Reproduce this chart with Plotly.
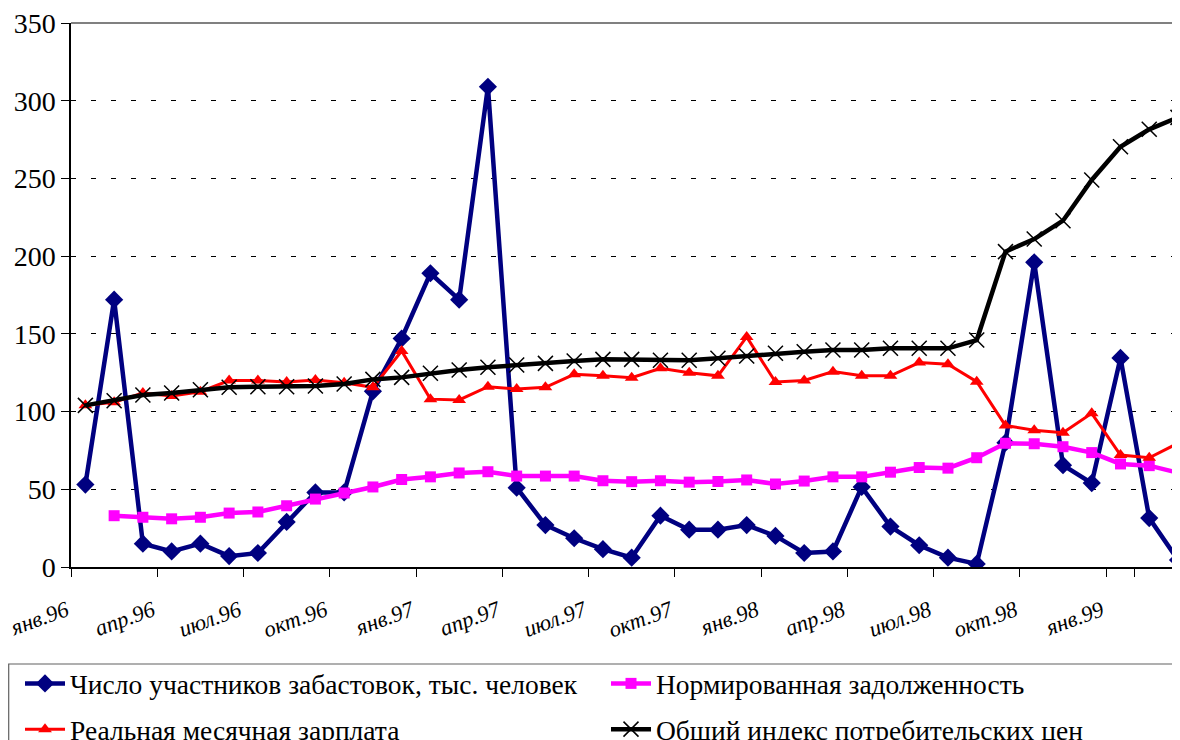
import plotly.graph_objects as go

months = ["янв.96","фев.96","мар.96","апр.96","май.96","июн.96","июл.96","авг.96","сен.96","окт.96","ноя.96","дек.96",
          "янв.97","фев.97","мар.97","апр.97","май.97","июн.97","июл.97","авг.97","сен.97","окт.97","ноя.97","дек.97",
          "янв.98","фев.98","мар.98","апр.98","май.98","июн.98","июл.98","авг.98","сен.98","окт.98","ноя.98","дек.98",
          "янв.99","фев.99","мар.99"]

strikers = [53, 172, 15, 10, 15, 7, 9, 29, 48, 48, 113, 147,
            189, 172, 309, 51, 27, 18.5, 11.5, 6, 33, 24, 24, 27,
            20, 9, 10, 51.5, 26, 14, 6, 2, 80, 196, 65.5, 54,
            134.5, 31.5, 4.5]

debt = [None, 33, 32, 31, 32, 34.7, 35.4, 39.4, 43.7, 47.6, 51.5, 56.3,
        58, 60.5, 61.3, 58.5, 58.5, 58.5, 55.5, 54.9, 55.5, 54.6, 55, 56,
        53.4, 55.3, 58, 58, 61, 64, 63.6, 70.3, 79.6, 79.3, 77.4, 73.6,
        66.3, 65.2, 60.7]

wage = [104, 106, 112, 110, 112.8, 120, 120, 119, 120.3, 118.6, 115.6, 139,
        108, 107.5, 116, 114.5, 115.6, 124, 123, 121.8, 127.8, 125, 123, 148,
        119, 120, 125.7, 123, 123, 131.5, 130.4, 119.2, 91, 88, 86.4, 98.9,
        72, 70.3, 79.6]

cpi = [104, 107, 110.7, 112, 114, 115.6, 116, 116, 116.5, 117.7, 120.7, 122,
       124.6, 126.7, 128.5, 130, 131, 132.5, 133.6, 133.6, 133, 133, 134.3, 135.8,
       137.5, 138.5, 139.6, 139.6, 140.7, 140.7, 140.7, 146, 202.9, 211, 222.8, 249,
       270.4, 281.6, 289.3]

tick_labels = months[::3]

names = ["Число участников забастовок, тыс. человек",
         "Нормированная задолженность",
         "Реальная месячная зарплата",
         "Общий индекс потребительских цен"]

SERIF = "Liberation Serif"

# the page body adds an 8px offset; figure coordinates below account for it
W, H = 1180, 740
ML, MR, MT, MB = 63, 8, 15, 181
PW, PH = W - ML - MR, H - MT - MB

fig = go.Figure()
fig.add_trace(go.Scatter(x=months, y=strikers, name=names[0], mode="lines+markers",
                         legend="legend", legendgroup="g1",
                         line=dict(color="#000080", width=4.5),
                         marker=dict(symbol="diamond", size=14, color="#000080")))
fig.add_trace(go.Scatter(x=months, y=debt, name=names[1], mode="lines+markers",
                         legend="legend2", legendgroup="g2",
                         line=dict(color="#FF00FF", width=4.5),
                         marker=dict(symbol="square", size=11, color="#FF00FF")))
fig.add_trace(go.Scatter(x=months, y=wage, name=names[2], mode="lines+markers",
                         legend="legend", legendgroup="g3",
                         line=dict(color="#FF0000", width=3),
                         marker=dict(symbol="triangle-up", size=12, color="#FF0000")))
fig.add_trace(go.Scatter(x=months, y=cpi, name=names[3], mode="lines+markers",
                         legend="legend2", legendgroup="g4",
                         line=dict(color="#000000", width=4.5),
                         marker=dict(symbol="x-thin-open", size=15, color="#000000",
                                     line=dict(width=1.5, color="#000000"))))

# top border of plot area
fig.add_shape(type="line", xref="paper", yref="paper", x0=0, x1=1, y0=1, y1=1,
              line=dict(color="#808080", width=2))
# legend frame
fig.add_shape(type="rect", xref="paper", yref="paper",
              x0=(0.7 - ML) / PW, x1=(1200 - ML) / PW,
              y0=-(760 - (H - MB)) / PH, y1=-(656 - (H - MB)) / PH,
              line=dict(color="#606060", width=1.2), fillcolor="rgba(0,0,0,0)")

legend_common = dict(orientation="v", xref="container", yref="container",
                     xanchor="left", yanchor="top",
                     bgcolor="rgba(0,0,0,0)", borderwidth=0,
                     font=dict(family=SERIF, size=27.5, color="black"),
                     itemwidth=40, tracegroupgap=7, traceorder="grouped")

fig.update_layout(
    width=W, height=H,
    margin=dict(l=ML, r=MR, t=MT, b=MB, autoexpand=False),
    paper_bgcolor="white", plot_bgcolor="white",
    font=dict(family=SERIF, color="black"),
    showlegend=True,
    legend=dict(x=12 / W, y=1 - 651 / H, **legend_common),
    legend2=dict(x=598 / W, y=1 - 651 / H, **legend_common),
)

fig.update_xaxes(type="category", range=[-0.5, 38.07], automargin=False,
                 tickmode="array", tickvals=tick_labels, ticktext=tick_labels,
                 tickson="boundaries", ticks="outside", ticklen=8, tickcolor="black",
                 tickangle=-20, ticklabelshift=-19, ticklabelstandoff=20,
                 ticklabeloverflow="allow",
                 tickfont=dict(family=SERIF, size=22.5, style="italic"),
                 showline=True, linecolor="black", linewidth=1.5,
                 showgrid=False, zeroline=False)

fig.update_yaxes(range=[0, 350], tickvals=[0, 50, 100, 150, 200, 250, 300, 350],
                 automargin=False, ticklabeloverflow="allow",
                 ticks="outside", ticklen=8, tickcolor="black",
                 tickfont=dict(family=SERIF, size=28),
                 showline=True, linecolor="black", linewidth=1.5,
                 showgrid=True, gridcolor="black", gridwidth=1, griddash="5px,15px",
                 zeroline=False)

fig.write_html("out.html")
